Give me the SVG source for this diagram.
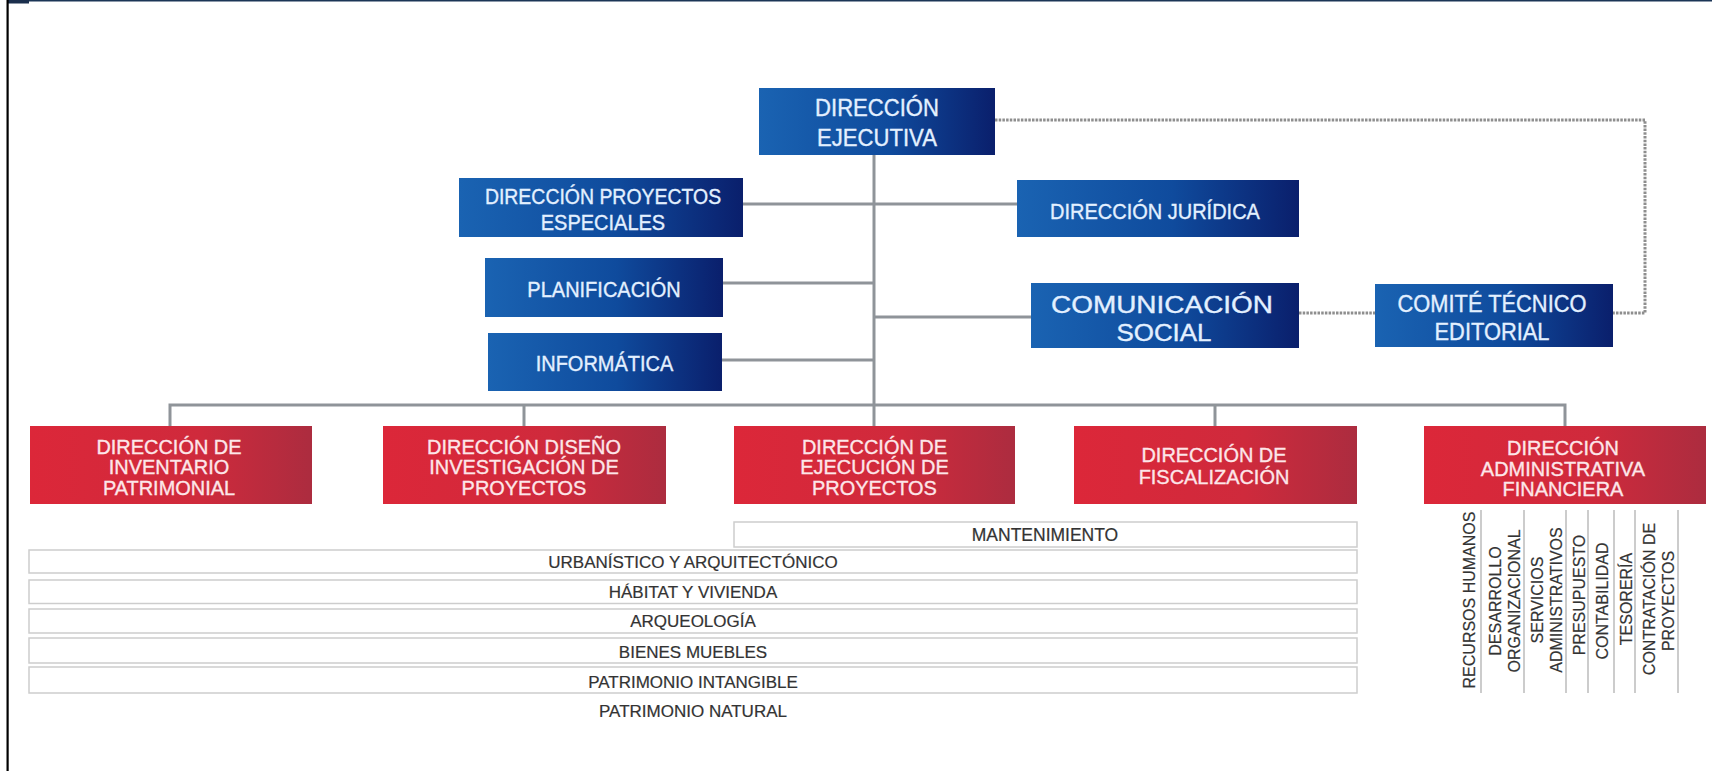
<svg xmlns="http://www.w3.org/2000/svg" width="1712" height="771" viewBox="0 0 1712 771">
<defs>
<linearGradient id="gBlue" x1="0" y1="0" x2="1" y2="0">
<stop offset="0" stop-color="#1a63b2"/>
<stop offset="0.55" stop-color="#0f4b9d"/>
<stop offset="1" stop-color="#0a1f6c"/>
</linearGradient>
<linearGradient id="gRed" x1="0" y1="0" x2="1" y2="0">
<stop offset="0" stop-color="#dc2739"/>
<stop offset="0.6" stop-color="#cf2a3c"/>
<stop offset="1" stop-color="#ac2c3f"/>
</linearGradient>
<style>
.blue{fill:url(#gBlue);}
.red{fill:url(#gRed);}
.bt{font-family:"Liberation Sans",Arial,sans-serif;font-size:21.5px;fill:#e3f0ff;stroke:#e3f0ff;stroke-width:0.35px;text-anchor:middle;}
.rt{font-family:"Liberation Sans",Arial,sans-serif;font-size:21px;fill:#fde6e9;stroke:#fde6e9;stroke-width:0.35px;text-anchor:middle;}
.lt{font-family:"Liberation Sans",Arial,sans-serif;font-size:17px;fill:#333333;stroke:#333333;stroke-width:0.2px;text-anchor:middle;}
.vt{font-family:"Liberation Sans",Arial,sans-serif;font-size:16px;fill:#333333;stroke:#333333;stroke-width:0.2px;text-anchor:middle;}
.row{fill:#ffffff;stroke:#cdcdcd;stroke-width:1.5;}
.ln{stroke:#8f9499;stroke-width:3;fill:none;}
.dot{stroke:#8e8e8e;stroke-width:3;stroke-dasharray:2.5 1.2;fill:none;}
.sep{stroke:#cccccc;stroke-width:2;}
</style>
</defs>

<rect x="0" y="0" width="1712" height="771" fill="#ffffff"/>
<rect x="7" y="0" width="1705" height="1.5" fill="#1b3556"/>
<rect x="7" y="0" width="22" height="3.5" fill="#1b2f4d"/>
<rect x="6.5" y="0" width="2.2" height="771" fill="#000000"/>

<g id="connectors">
<line class="ln" x1="874" y1="155" x2="874" y2="405"/>
<line class="ln" x1="743" y1="204" x2="1017" y2="204"/>
<line class="ln" x1="723" y1="283" x2="874" y2="283"/>
<line class="ln" x1="874" y1="317" x2="1031" y2="317"/>
<line class="ln" x1="722" y1="360" x2="874" y2="360"/>
<polyline class="ln" points="170,426 170,405 1565,405 1565,426"/>
<line class="ln" x1="524" y1="405" x2="524" y2="426"/>
<line class="ln" x1="874" y1="405" x2="874" y2="426"/>
<line class="ln" x1="1215" y1="405" x2="1215" y2="426"/>
<polyline class="dot" points="995,120 1645,120 1645,313 1613,313"/>
<line class="dot" x1="1299" y1="313" x2="1375" y2="313"/>
</g>

<g id="n-ejecutiva">
<rect class="blue" x="759" y="88" width="236" height="67"/>
<g transform="translate(877 0) scale(0.96 1) translate(-877 0)">
<text class="bt" x="877" y="116" style="font-size:23px">DIRECCIÓN</text>
<text class="bt" x="877" y="146.5" style="font-size:23px">EJECUTIVA</text>
</g>
</g>
<g id="n-proyectos-especiales">
<rect class="blue" x="459" y="178" width="284" height="59"/>
<g transform="translate(603 0) scale(0.93 1) translate(-603 0)">
<text class="bt" x="603" y="204" textLength="254" lengthAdjust="spacingAndGlyphs">DIRECCIÓN PROYECTOS</text>
<text class="bt" x="603" y="230">ESPECIALES</text>
</g>
</g>
<g id="n-planificacion">
<rect class="blue" x="485" y="258" width="238" height="59"/>
<g transform="translate(604 0) scale(0.93 1) translate(-604 0)">
<text class="bt" x="604" y="297">PLANIFICACIÓN</text>
</g>
</g>
<g id="n-informatica">
<rect class="blue" x="488" y="333" width="234" height="58"/>
<g transform="translate(604.5 0) scale(0.93 1) translate(-604.5 0)">
<text class="bt" x="604.5" y="371">INFORMÁTICA</text>
</g>
</g>
<g id="n-juridica">
<rect class="blue" x="1017" y="180" width="282" height="57"/>
<g transform="translate(1155 0) scale(0.93 1) translate(-1155 0)">
<text class="bt" x="1155" y="219">DIRECCIÓN JURÍDICA</text>
</g>
</g>
<g id="n-comunicacion">
<rect class="blue" x="1031" y="283" width="268" height="65"/>
<text class="bt" x="1162" y="312.5" style="font-size:23px" textLength="222" lengthAdjust="spacingAndGlyphs">COMUNICACIÓN</text>
<text class="bt" x="1164" y="340.5" style="font-size:23px" textLength="95" lengthAdjust="spacingAndGlyphs">SOCIAL</text>
</g>
<g id="n-comite">
<rect class="blue" x="1375" y="284" width="238" height="63"/>
<g transform="translate(1492 0) scale(0.93 1) translate(-1492 0)">
<text class="bt" x="1492" y="312" style="font-size:23.5px">COMITÉ TÉCNICO</text>
<text class="bt" x="1492" y="340.5" style="font-size:23.5px">EDITORIAL</text>
</g>
</g>

<g id="n-inventario">
<rect class="red" x="30" y="426" width="282" height="78"/>
<g transform="translate(169 0) scale(0.95 1) translate(-169 0)">
<text class="rt" x="169" y="454">DIRECCIÓN DE</text>
<text class="rt" x="169" y="474.5">INVENTARIO</text>
<text class="rt" x="169" y="495">PATRIMONIAL</text>
</g>
</g>
<g id="n-diseno">
<rect class="red" x="383" y="426" width="283" height="78"/>
<g transform="translate(524 0) scale(0.95 1) translate(-524 0)">
<text class="rt" x="524" y="454">DIRECCIÓN DISEÑO</text>
<text class="rt" x="524" y="474.5">INVESTIGACIÓN DE</text>
<text class="rt" x="524" y="495">PROYECTOS</text>
</g>
</g>
<g id="n-ejecucion">
<rect class="red" x="734" y="426" width="281" height="78"/>
<g transform="translate(874.5 0) scale(0.95 1) translate(-874.5 0)">
<text class="rt" x="874.5" y="454">DIRECCIÓN DE</text>
<text class="rt" x="874.5" y="474.5">EJECUCIÓN DE</text>
<text class="rt" x="874.5" y="495">PROYECTOS</text>
</g>
</g>
<g id="n-fiscalizacion">
<rect class="red" x="1074" y="426" width="283" height="78"/>
<g transform="translate(1214 0) scale(0.95 1) translate(-1214 0)">
<text class="rt" x="1214" y="462">DIRECCIÓN DE</text>
<text class="rt" x="1214" y="484">FISCALIZACIÓN</text>
</g>
</g>
<g id="n-administrativa">
<rect class="red" x="1424" y="426" width="282" height="78"/>
<g transform="translate(1563 0) scale(0.95 1) translate(-1563 0)">
<text class="rt" x="1563" y="455">DIRECCIÓN</text>
<text class="rt" x="1563" y="476">ADMINISTRATIVA</text>
<text class="rt" x="1563" y="496.5">FINANCIERA</text>
</g>
</g>

<g id="n-areas">
<rect class="row" x="734" y="522" width="623" height="25"/>
<text class="lt" x="1045" y="541" style="font-size:17.5px">MANTENIMIENTO</text>
<rect class="row" x="29" y="550" width="1328" height="23"/>
<text class="lt" x="693" y="568">URBANÍSTICO Y ARQUITECTÓNICO</text>
<rect class="row" x="29" y="580" width="1328" height="23.5"/>
<text class="lt" x="693" y="598">HÁBITAT Y VIVIENDA</text>
<rect class="row" x="29" y="609" width="1328" height="24"/>
<text class="lt" x="693" y="627">ARQUEOLOGÍA</text>
<rect class="row" x="29" y="638" width="1328" height="25"/>
<text class="lt" x="693" y="658">BIENES MUEBLES</text>
<rect class="row" x="29" y="667" width="1328" height="26"/>
<text class="lt" x="693" y="688">PATRIMONIO INTANGIBLE</text>
<text class="lt" x="693" y="717">PATRIMONIO NATURAL</text>
</g>

<g id="n-admin-units">
<line class="sep" x1="1481" y1="510" x2="1481" y2="693"/>
<line class="sep" x1="1524" y1="510" x2="1524" y2="693"/>
<line class="sep" x1="1566" y1="510" x2="1566" y2="693"/>
<line class="sep" x1="1588" y1="510" x2="1588" y2="693"/>
<line class="sep" x1="1614" y1="510" x2="1614" y2="693"/>
<line class="sep" x1="1635" y1="510" x2="1635" y2="693"/>
<line class="sep" x1="1678" y1="510" x2="1678" y2="693"/>
<text class="vt" transform="translate(1475,600) rotate(-90)">RECURSOS HUMANOS</text>
<text class="vt" transform="translate(1501,601) rotate(-90)">DESARROLLO</text>
<text class="vt" transform="translate(1520,601) rotate(-90)">ORGANIZACIONAL</text>
<text class="vt" transform="translate(1543,600) rotate(-90)">SERVICIOS</text>
<text class="vt" transform="translate(1562,600) rotate(-90)">ADMINISTRATIVOS</text>
<text class="vt" transform="translate(1585,595) rotate(-90)">PRESUPUESTO</text>
<text class="vt" transform="translate(1608,601) rotate(-90)">CONTABILIDAD</text>
<text class="vt" transform="translate(1632,599) rotate(-90)">TESORERÍA</text>
<text class="vt" transform="translate(1655,599) rotate(-90)">CONTRATACIÓN DE</text>
<text class="vt" transform="translate(1674,601) rotate(-90)">PROYECTOS</text>
</g>
</svg>
